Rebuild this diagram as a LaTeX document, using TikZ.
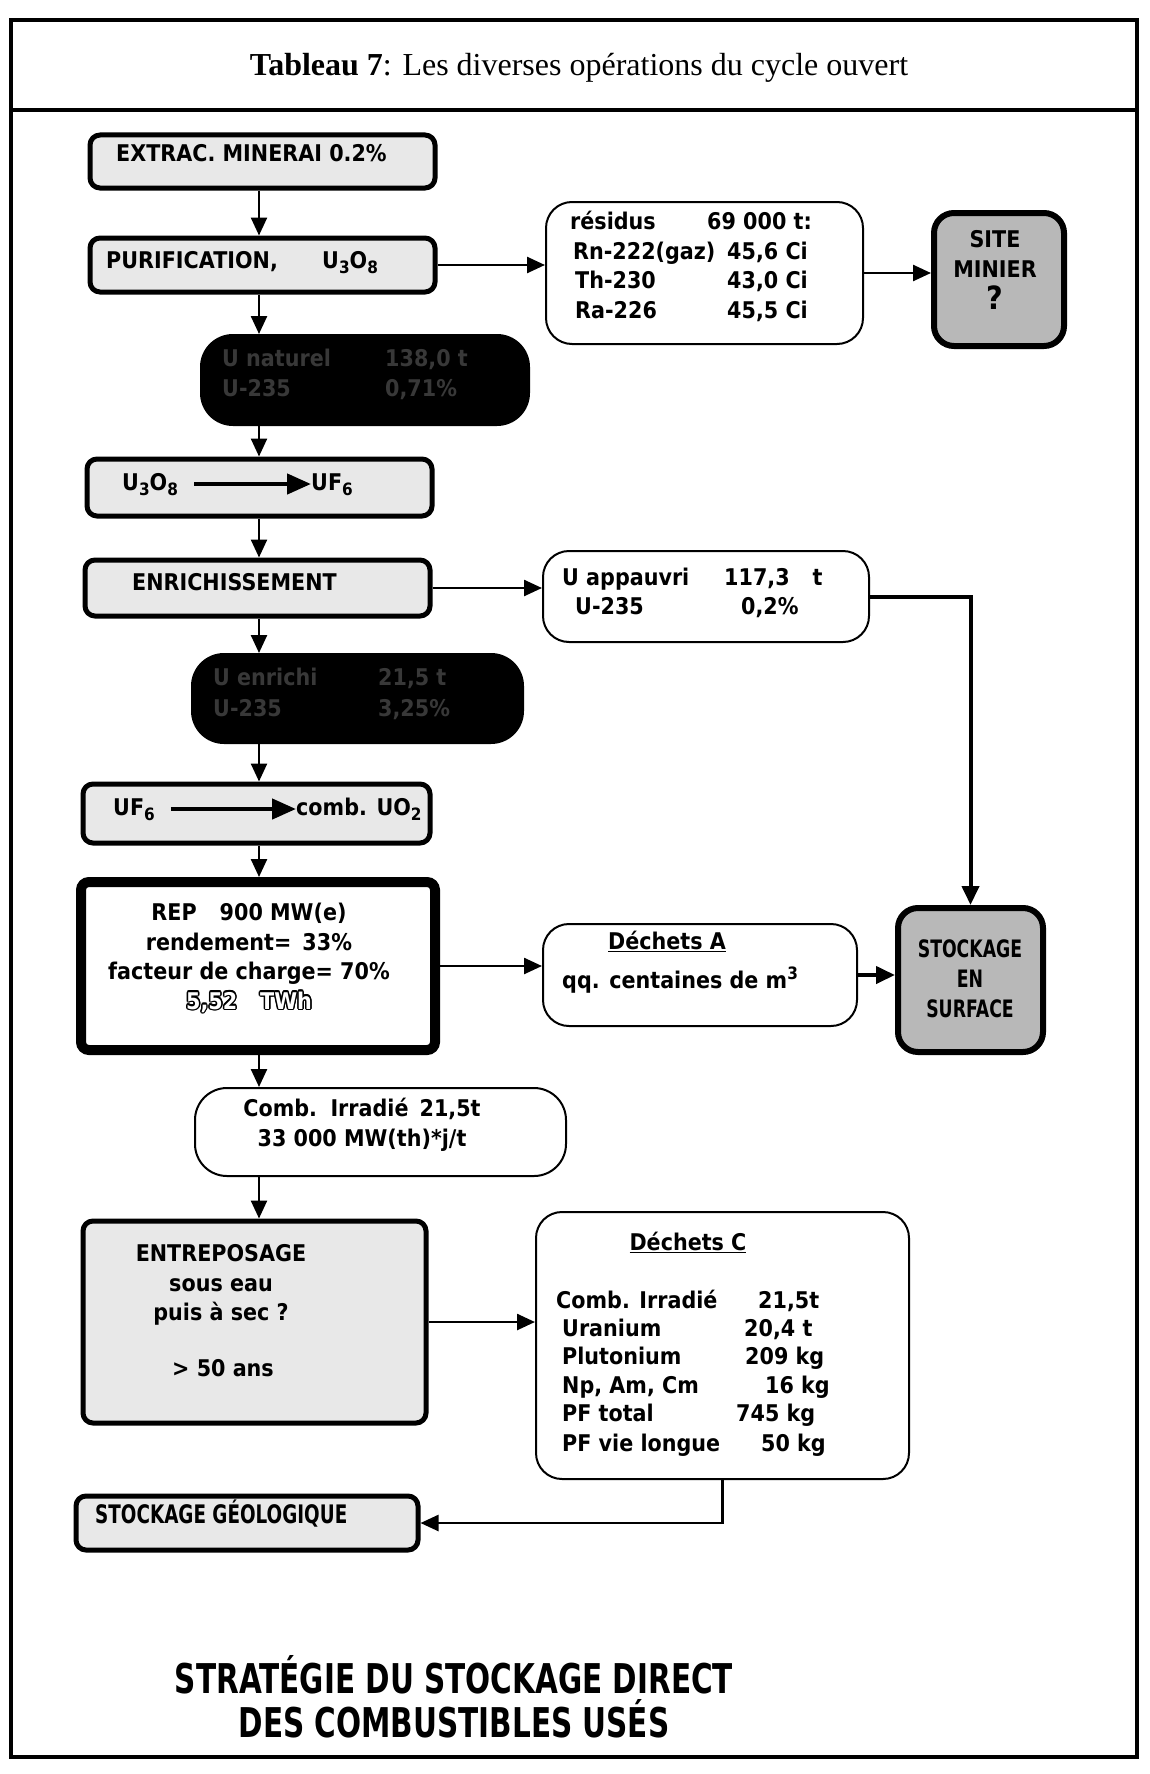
\documentclass[tikz,border=0pt]{standalone}
\usepackage{fontspec}
\setmainfont{Liberation Serif}
\newfontfamily\px{DejaVu Sans}[FakeStretch=0.9]
\newfontfamily\pxc{DejaVu Sans}[FakeStretch=0.72]
\usetikzlibrary{arrows.meta,calc}
\newcommand{\sbx}[1]{\raisebox{-5pt}{\fontsize{17}{17}\selectfont #1}}
\newcommand{\spx}[1]{\raisebox{9pt}{\fontsize{17}{17}\selectfont #1}}
\tikzset{
 pale/.style={draw, line width=5pt, rounded corners=10pt, fill=black!9, inner sep=0pt},
 darkbox/.style={draw, fill=black, line width=2pt, rounded corners=32pt, inner sep=0pt},
 thinbox/.style={draw, line width=2pt, rounded corners=26pt, fill=white, inner sep=0pt},
 midbox/.style={draw, line width=6pt, rounded corners=20pt, fill=black!28, inner sep=0pt},
 heavybox/.style={draw, line width=10pt, rounded corners=8pt, fill=white, inner sep=0pt},
 txt/.style={font={\px\bfseries\fontsize{23}{29.5}\selectfont}, inner sep=0pt},
 one/.style={text height=17pt, text depth=5pt},
 ctxt/.style={font={\pxc\bfseries\fontsize{24}{30}\selectfont}, inner sep=0pt},
 faint/.style={text=black!78},
 flow/.style={line width=2.5pt, -{Triangle[length=18pt,width=16pt]}},
 flowthick/.style={line width=4pt, line join=miter, -{Triangle[length=19pt,width=17pt]}},
 inarrow/.style={line width=4.5pt, -{Triangle[length=24pt,width=20pt]}},
}
\begin{document}
\begin{tikzpicture}[x=1pt,y=-1pt]
\useasboundingbox (0,0) rectangle (1149,1774);
% frame
\draw[line width=3.5pt] (11,20) rectangle (1137,1757);
\draw[line width=3.5pt] (11,110) -- (1137,110);
\node[inner sep=0pt, font=\fontsize{32}{36}\selectfont] (title) at (579,68) {\textbf{Tableau 7}: Les diverses opérations du cycle ouvert};

\coordinate (col) at (259,0);

% left column boxes
\node[pale, minimum width=345pt, minimum height=53pt] (extrac) at (262.5,161.5) {};
\node[pale, minimum width=345pt, minimum height=54pt] (purif) at (262.5,265) {};
\node[darkbox, minimum width=328pt, minimum height=90pt] (dark1) at (365,380) {};
\node[pale, minimum width=345pt, minimum height=57pt] (uox) at (259.5,487.5) {};
\node[pale, minimum width=345pt, minimum height=56pt] (enrich) at (257.5,588) {};
\node[darkbox, minimum width=331pt, minimum height=89pt] (dark2) at (357.5,698.5) {};
\node[pale, minimum width=347pt, minimum height=59pt] (uf6) at (256.5,813.5) {};
\node[heavybox, minimum width=354pt, minimum height=168pt] (rep) at (258,966) {};
\node[thinbox, rounded corners=32pt, minimum width=371pt, minimum height=88pt] (comb) at (380.5,1132) {};
\node[pale, minimum width=343pt, minimum height=202pt] (entre) at (254.5,1322) {};
\node[pale, minimum width=342pt, minimum height=54pt] (geol) at (247,1523) {};

% right column boxes
\node[thinbox, minimum width=317pt, minimum height=142pt] (resid) at (704.5,273) {};
\node[midbox, minimum width=130pt, minimum height=133pt] (site) at (999,279.5) {};
\node[thinbox, minimum width=326pt, minimum height=91pt] (uapp) at (706,596.5) {};
\node[thinbox, minimum width=314pt, minimum height=102pt] (decha) at (700,975) {};
\node[midbox, minimum width=145pt, minimum height=144pt] (surf) at (970.5,980) {};
\node[thinbox, minimum width=373pt, minimum height=267pt] (dechc) at (722.5,1345.5) {};

% texts left column
\node[txt, one, anchor=west] (t-extrac) at (116,155) {EXTRAC. MINERAI 0.2\%};
\node[txt, one, anchor=west] (t-purif) at (106,262) {PURIFICATION,};
\node[txt, one, anchor=west] (t-purif2) at (322,262) {U\sbx{3}O\sbx{8}};
\node[txt, one, faint, anchor=west] (d1a) at (222,360) {U naturel};
\node[txt, one, faint, anchor=west] (d1b) at (385,360) {138,0 t};
\node[txt, one, faint, anchor=west] (d1c) at (222,390) {U-235};
\node[txt, one, faint, anchor=west] (d1d) at (385,390) {0,71\%};
\node[txt, one, anchor=west] (t-uox1) at (122,484) {U\sbx{3}O\sbx{8}};
\node[txt, one, anchor=west] (t-uox2) at (311,484) {UF\sbx{6}};
\draw[inarrow] (t-uox1.east) ++(16,0) -- (t-uox2.west);
\node[txt, one, anchor=west] (t-enrich) at (132,584) {ENRICHISSEMENT};
\node[txt, one, faint, anchor=west] (d2a) at (213,679) {U enrichi};
\node[txt, one, faint, anchor=west] (d2b) at (378,679) {21,5 t};
\node[txt, one, faint, anchor=west] (d2c) at (213,710) {U-235};
\node[txt, one, faint, anchor=west] (d2d) at (378,710) {3,25\%};
\node[txt, one, anchor=west] (t-uf1) at (113,809) {UF\sbx{6}};
\node[txt, one, anchor=west] (t-uf2) at (296,809) {comb. UO\sbx{2}};
\draw[inarrow] (t-uf1.east) ++(16,0) -- (t-uf2.west);
\node[txt, align=center] (t-rep) at (249,944) {REP\quad 900 MW(e)\\rendement= \,33\%\\facteur de charge= 70\%};
\coordinate (twh) at (249,1003);
\foreach \a in {0,30,...,330}
  \node[txt, one] at ($(twh)+(\a:1.4)$) {5,52\quad TWh};
\node[txt, one, text=white] (t-twh) at (twh) {5,52\quad TWh};
\node[txt, align=center] (t-comb) at (362,1125) {Comb. \,Irradié \,21,5t\\33 000 MW(th)*j/t};
\node[txt, align=center] (t-entre) at (221,1285) {ENTREPOSAGE\\sous eau\\puis à sec ?};
\node[txt, one] (t-entre2) at (223,1370) {> 50 ans};
\node[ctxt, one, anchor=west, font={\pxc\bfseries\fontsize{25.5}{30}\selectfont}] (t-geol) at (95,1517) {STOCKAGE GÉOLOGIQUE};

% texts right column
\node[txt, one, anchor=west] (r1a) at (570,223) {résidus};
\node[txt, one, anchor=west] (r1b) at (707,223) {69 000 t:};
\node[txt, one, anchor=west] (r2a) at (573,253) {Rn-222(gaz)};
\node[txt, one, anchor=east] (r2b) at (808,253) {45,6 Ci};
\node[txt, one, anchor=west] (r3a) at (575,282) {Th-230};
\node[txt, one, anchor=east] (r3b) at (808,282) {43,0 Ci};
\node[txt, one, anchor=west] (r4a) at (575,312) {Ra-226};
\node[txt, one, anchor=east] (r4b) at (808,312) {45,5 Ci};
\node[txt, align=center] (t-site) at (995,254) {SITE\\MINIER};
\node[txt, one, font={\px\bfseries\fontsize{32}{32}\selectfont}] (t-site2) at (995,303) {?};
\node[txt, one, anchor=west] (u1a) at (562,579) {U appauvri};
\node[txt, one, anchor=west] (u1b) at (724,579) {117,3\quad t};
\node[txt, one, anchor=west] (u2a) at (575,608) {U-235};
\node[txt, one, anchor=west] (u2b) at (741,608) {0,2\%};
\node[txt, one] (a1) at (667,943) {\underline{Déchets A}};
\node[txt, one, anchor=west] (a2) at (562,982) {qq. centaines de m\spx{3}};
\node[ctxt, align=center] (t-surf) at (970,979) {STOCKAGE\\EN\\SURFACE};
\node[txt, one] (c0) at (688,1244) {\underline{Déchets C}};
\node[txt, one, anchor=west] (c1a) at (556,1302) {Comb. Irradié};
\node[txt, one, anchor=west] (c1b) at (758,1302) {21,5t};
\node[txt, one, anchor=west] (c2a) at (562,1330) {Uranium};
\node[txt, one, anchor=west] (c2b) at (744,1330) {20,4 t};
\node[txt, one, anchor=west] (c3a) at (562,1358) {Plutonium};
\node[txt, one, anchor=west] (c3b) at (745,1358) {209 kg};
\node[txt, one, anchor=west] (c4a) at (562,1387) {Np, Am, Cm};
\node[txt, one, anchor=west] (c4b) at (765,1387) {16 kg};
\node[txt, one, anchor=west] (c5a) at (562,1415) {PF total};
\node[txt, one, anchor=west] (c5b) at (736,1415) {745 kg};
\node[txt, one, anchor=west] (c6a) at (562,1445) {PF vie longue};
\node[txt, one, anchor=west] (c6b) at (761,1445) {50 kg};

% bottom title
\node[inner sep=0pt, align=center, font={\pxc\bfseries\fontsize{41}{44}\selectfont}] (strat) at (454,1697) {STRATÉGIE DU STOCKAGE DIRECT\\DES COMBUSTIBLES USÉS};

% vertical flow
\draw[flow] (extrac.south -| col) -- (purif.north -| col);
\draw[flow] (purif.south -| col) -- (dark1.north -| col);
\draw[flow] (dark1.south -| col) -- (uox.north -| col);
\draw[flow] (uox.south -| col) -- (enrich.north -| col);
\draw[flow] (enrich.south -| col) -- (dark2.north -| col);
\draw[flow] (dark2.south -| col) -- (uf6.north -| col);
\draw[flow] (uf6.south -| col) -- (rep.north -| col);
\draw[flow] (rep.south -| col) -- (comb.north -| col);
\draw[flow] (comb.south -| col) -- (entre.north -| col);

% horizontal flow
\draw[flow] (purif.east) -- (purif.east -| resid.west);
\draw[flow] (resid.east) -- (resid.east -| site.west);
\draw[flow] (enrich.east) -- (enrich.east -| uapp.west);
\draw[flowthick] (uapp.east) -- (uapp.east -| surf.north) -- (surf.north);
\draw[flow] (rep.east) -- (rep.east -| decha.west);
\draw[flowthick] (decha.east) -- (decha.east -| surf.west);
\draw[flow] (entre.east) -- (entre.east -| dechc.west);
\draw[flow] (dechc.south) -- (dechc.south |- geol.east) -- (geol.east);
\end{tikzpicture}
\end{document}
